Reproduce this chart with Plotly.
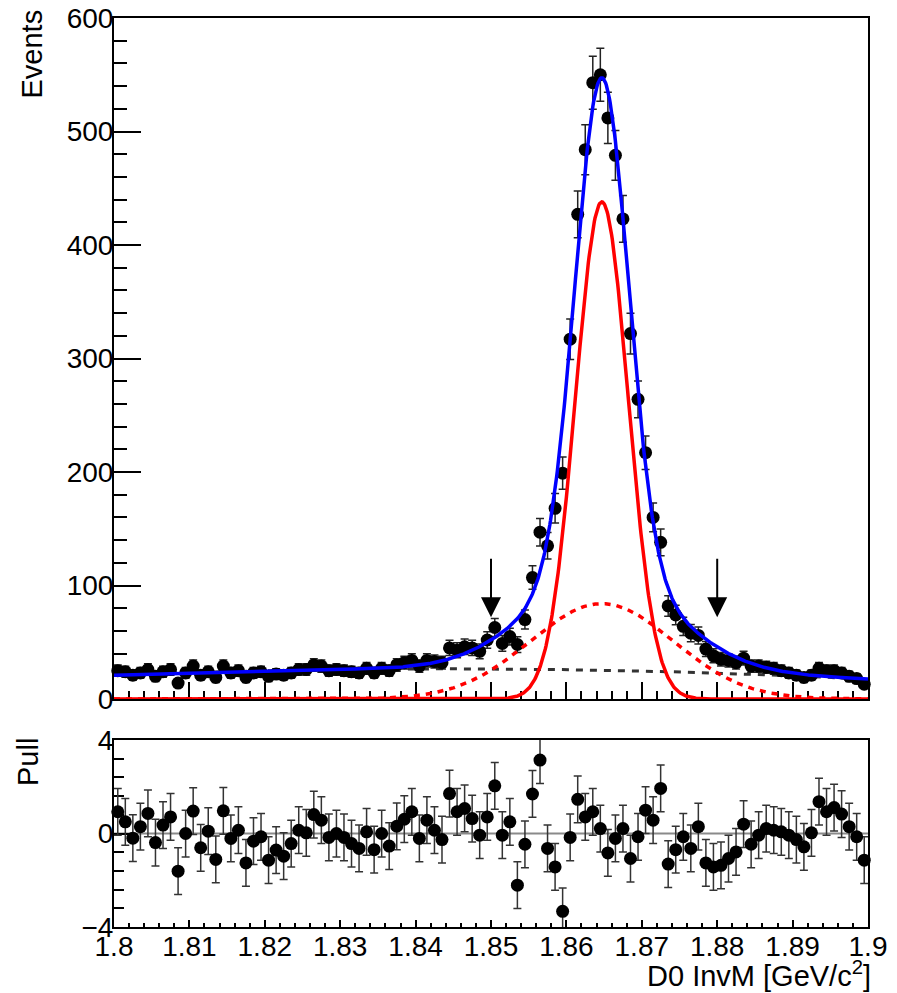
import numpy as np
import plotly.graph_objects as go

# ---------------- data ----------------
x_lo, x_hi, n_bins = 1.8, 1.9, 100
events = [25, 24, 21, 23, 26, 20, 24, 26, 14, 23,
          29, 21, 24, 19, 29, 23, 25, 19, 23, 24,
          20, 22, 21, 23, 26, 26, 30, 29, 25, 26,
          25, 24, 23, 27, 23, 27, 25, 30, 32, 34,
          29, 34, 33, 32, 45, 43, 46, 45, 42, 52,
          63, 49, 55, 48, 70, 107, 147, 135, 168, 199,
          317, 427, 484, 543, 550, 512, 479, 423, 322, 264,
          217, 160, 138, 82, 74, 64, 58, 56, 44, 38,
          35, 34, 32, 36, 29, 29, 28, 27, 25, 23,
          21, 19, 21, 27, 25, 25, 23, 20, 18, 13]
pulls = [0.93, 0.5, -0.2, 0.29, 0.86, -0.39, 0.36, 0.71, -1.61, 0.0,
         0.96, -0.61, 0.1, -1.11, 0.97, -0.21, 0.14, -1.26, -0.33, -0.14,
         -1.14, -0.71, -0.97, -0.43, 0.14, 0.03, 0.81, 0.57, -0.17, 0.0,
         -0.17, -0.43, -0.64, 0.07, -0.69, 0.0, -0.54, 0.31, 0.61, 0.93,
         -0.21, 0.57, 0.14, -0.26, 1.71, 0.93, 1.07, 0.64, -0.07, 0.71,
         2.04, -0.07, 0.5, -2.21, -0.46, 1.69, 3.14, -0.64, -1.43, -3.33,
         -0.17, 1.46, 0.71, 0.93, 0.21, -0.83, -0.21, 0.21, -1.07, -0.14,
         1.0, 0.57, 1.93, -1.31, -0.69, -0.14, -0.64, 0.29, -1.26, -1.43,
         -1.36, -1.07, -0.79, 0.4, -0.46, -0.07, 0.21, 0.14, 0.07, -0.07,
         -0.26, -0.57, 0.03, 1.36, 0.93, 1.11, 0.83, 0.29, -0.14, -1.14]

# fit result
peak_mean = 1.8647
sig_core, amp_core = 0.0035, 438.0
sig_wide, amp_wide = 0.0095, 84.0
bkg_coef = [26.5, -1.75, -7.25]   # polynomial in t = (m-1.85)/0.05

arrow_x = [1.85, 1.88]
arrow_y = [72, 125]   # tip, tail (Events)

y_ticks_top = [0, 100, 200, 300, 400, 500, 600]
pull_ticks = [-4, 0, 4]

# ---------------- derived ----------------
bw = (x_hi - x_lo) / n_bins
centers = x_lo + bw * (np.arange(n_bins) + 0.5)
ev = np.array(events, dtype=float)
ev_err = np.sqrt(ev)

m = np.linspace(x_lo, x_hi, 1001)
t = (m - 1.85) / 0.05
bkg = bkg_coef[0] + bkg_coef[1] * t + bkg_coef[2] * t ** 2
core = amp_core * np.exp(-0.5 * ((m - peak_mean) / sig_core) ** 2)
wide = amp_wide * np.exp(-0.5 * ((m - peak_mean) / sig_wide) ** 2)
total = bkg + core + wide

W, H = 897, 993
L, R = 114, 868
top_t, top_b = 18, 699
bot_t, bot_b = 740, 927

FONT = "Liberation Sans, Arial, Helvetica, sans-serif"

fig = go.Figure()
fig.add_trace(go.Scatter(x=m, y=bkg, mode="lines", xaxis="x", yaxis="y",
                         line=dict(color="#333333", width=3, dash="7px,7px"),
                         cliponaxis=False, showlegend=False))
fig.add_trace(go.Scatter(x=centers, y=ev, mode="markers", xaxis="x", yaxis="y",
                         marker=dict(color="black", size=13),
                         error_y=dict(type="data", array=ev_err, color="#222222",
                                      thickness=1.5, width=4),
                         cliponaxis=False, showlegend=False))
fig.add_trace(go.Scatter(x=m, y=total, mode="lines", xaxis="x", yaxis="y",
                         line=dict(color="#0000ff", width=3.5),
                         cliponaxis=False, showlegend=False))
fig.add_trace(go.Scatter(x=m, y=core, mode="lines", xaxis="x", yaxis="y",
                         line=dict(color="#ff0000", width=3.5),
                         cliponaxis=False, showlegend=False))
fig.add_trace(go.Scatter(x=m, y=wide, mode="lines", xaxis="x", yaxis="y",
                         line=dict(color="#ff0000", width=3.5, dash="6px,6px"),
                         cliponaxis=False, showlegend=False))

# pull panel
fig.add_shape(type="line", xref="x2", yref="y2", x0=x_lo, x1=x_hi, y0=0, y1=0,
              line=dict(color="#8a8a8a", width=2), layer="below")
fig.add_trace(go.Scatter(x=centers, y=pulls, mode="markers", xaxis="x2", yaxis="y2",
                         marker=dict(color="black", size=13),
                         error_y=dict(type="constant", value=1.0, color="#333333",
                                      thickness=1.5, width=4),
                         cliponaxis=False, showlegend=False))

for ax_ in arrow_x:
    fig.add_annotation(x=ax_, y=arrow_y[0], ax=ax_, ay=arrow_y[1], xref="x", yref="y",
                       axref="x", ayref="y", text="", showarrow=True, arrowhead=2,
                       arrowsize=2.0, arrowwidth=2, arrowcolor="black")

tickfont = dict(family=FONT, size=28, color="black")
fig.update_layout(
    width=W, height=H, margin=dict(l=0, r=0, t=0, b=0, autoexpand=False),
    paper_bgcolor="white", plot_bgcolor="white",
    xaxis=dict(domain=[L / W, R / W], range=[x_lo, x_hi], anchor="y", automargin=False,
               showticklabels=False, ticks="inside", ticklen=17, tickwidth=2,
               tickcolor="black", tick0=x_lo, dtick=0.01,
               minor=dict(ticks="inside", ticklen=8, tickwidth=2, tickcolor="black",
                          dtick=0.002, tick0=x_lo, showgrid=False),
               showline=True, linecolor="black", linewidth=2, mirror=True,
               showgrid=False, zeroline=False, layer="below traces"),
    yaxis=dict(domain=[1 - top_b / H, 1 - top_t / H], range=[0, 600], anchor="x",
               automargin=False, ticklabelstandoff=-7,
               tickvals=y_ticks_top, ticks="inside", ticklen=27, tickwidth=2,
               tickcolor="black", tickfont=tickfont,
               minor=dict(ticks="inside", ticklen=13, tickwidth=2, tickcolor="black",
                          dtick=20, tick0=0, showgrid=False),
               showline=True, linecolor="black", linewidth=2, mirror=True,
               showgrid=False, zeroline=False, layer="below traces"),
    xaxis2=dict(domain=[L / W, R / W], range=[x_lo, x_hi], anchor="y2", automargin=False,
                ticklabelstandoff=-7,
                ticks="inside", ticklen=7, tickwidth=2, tickcolor="black",
                tick0=x_lo, dtick=0.01, tickfont=tickfont,
                minor=dict(ticks="inside", ticklen=4, tickwidth=2, tickcolor="black",
                           dtick=0.002, tick0=x_lo, showgrid=False),
                showline=True, linecolor="black", linewidth=2, mirror=True,
                showgrid=False, zeroline=False, layer="below traces"),
    yaxis2=dict(domain=[1 - bot_b / H, 1 - bot_t / H], range=[-4, 4], anchor="x2",
                automargin=False, ticklabelstandoff=-7,
                tickvals=pull_ticks, ticktext=["\u22124", "0", "4"],
                ticks="inside", ticklen=19, tickwidth=2,
                tickcolor="black", tickfont=tickfont,
                minor=dict(ticks="inside", ticklen=10, tickwidth=2, tickcolor="black",
                           dtick=0.8, tick0=-4, showgrid=False),
                showline=True, linecolor="black", linewidth=2, mirror=True,
                showgrid=False, zeroline=False, layer="below traces"),
)

titlefont = dict(family=FONT, size=29, color="black")
fig.add_annotation(text="Events", xref="paper", yref="paper", x=31 / W, y=1 - 8 / H,
                   xanchor="center", yanchor="top", textangle=-90, showarrow=False,
                   font=titlefont)
fig.add_annotation(text="Pull", xref="paper", yref="paper", x=28 / W, y=1 - 736 / H,
                   xanchor="center", yanchor="top", textangle=-90, showarrow=False,
                   font=titlefont)
fig.add_annotation(text="D0 InvM [GeV/c<sup>2</sup>]", xref="paper", yref="paper",
                   x=873 / W, y=1 - 974 / H, xanchor="right", yanchor="middle",
                   showarrow=False, font=titlefont)

fig.write_html("out.html")
